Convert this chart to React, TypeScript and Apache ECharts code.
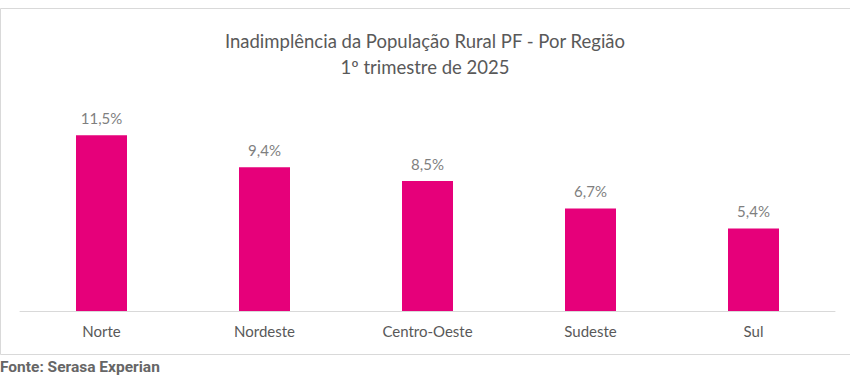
import React, { useEffect, useRef } from "react";
import * as echarts from "echarts";

const categories = ["Norte", "Nordeste", "Centro-Oeste", "Sudeste", "Sul"];
const values = [11.5, 9.4, 8.5, 6.7, 5.4];
const titleLines = ["Inadimplência da População Rural PF - Por Região", "1º trimestre de 2025"];
const sourceText = "Fonte: Serasa Experian";

export default function App() {
  const ref = useRef<HTMLDivElement>(null);
  useEffect(() => {
    if (!ref.current) return;
    const chart = echarts.init(ref.current, null, { renderer: "svg" });
    chart.setOption({
      animation: false,
      backgroundColor: "#ffffff",
      title: {
        text: titleLines.join("\n"),
        left: "center",
        top: 23,
        textStyle: {
          fontFamily: "Lato",
          fontSize: 18.5,
          fontWeight: "normal",
          color: "#595959",
          lineHeight: 26,
        },
      },
      grid: { left: 20, right: 15, top: 97, bottom: 71, containLabel: false },
      xAxis: {
        type: "category",
        data: categories,
        axisLine: { lineStyle: { color: "#d9d9d9", width: 1 } },
        axisTick: { show: false },
        axisLabel: { color: "#595959", fontSize: 15, fontFamily: "Lato", margin: 12 },
      },
      yAxis: {
        type: "value",
        min: 0,
        max: 14,
        show: false,
        splitLine: { show: false },
      },
      series: [
        {
          type: "bar",
          data: values,
          barWidth: 51,
          itemStyle: { color: "#E6007A" },
          label: {
            show: true,
            position: "top",
            distance: 10,
            color: "#7f7f7f",
            fontSize: 15,
            fontFamily: "Lato",
            formatter: (p: any) => String(p.value).replace(".", ",") + "%",
          },
        },
      ],
      graphic: [
        {
          type: "rect",
          shape: { x: 0.5, y: 8.5, width: 852, height: 346 },
          style: { fill: "none", stroke: "#d9d9d9", lineWidth: 1 },
          silent: true,
        },
        {
          type: "text",
          left: 0,
          top: 359,
          style: {
            text: sourceText,
            fontFamily: "Roboto",
            fontWeight: "bold",
            fontSize: 15.5,
            fill: "#666666",
          },
        },
      ],
    });
    return () => chart.dispose();
  }, []);
  return (
    <div
      ref={ref}
      style={{ position: "fixed", left: 0, top: 0, width: 850, height: 382 }}
    />
  );
}
